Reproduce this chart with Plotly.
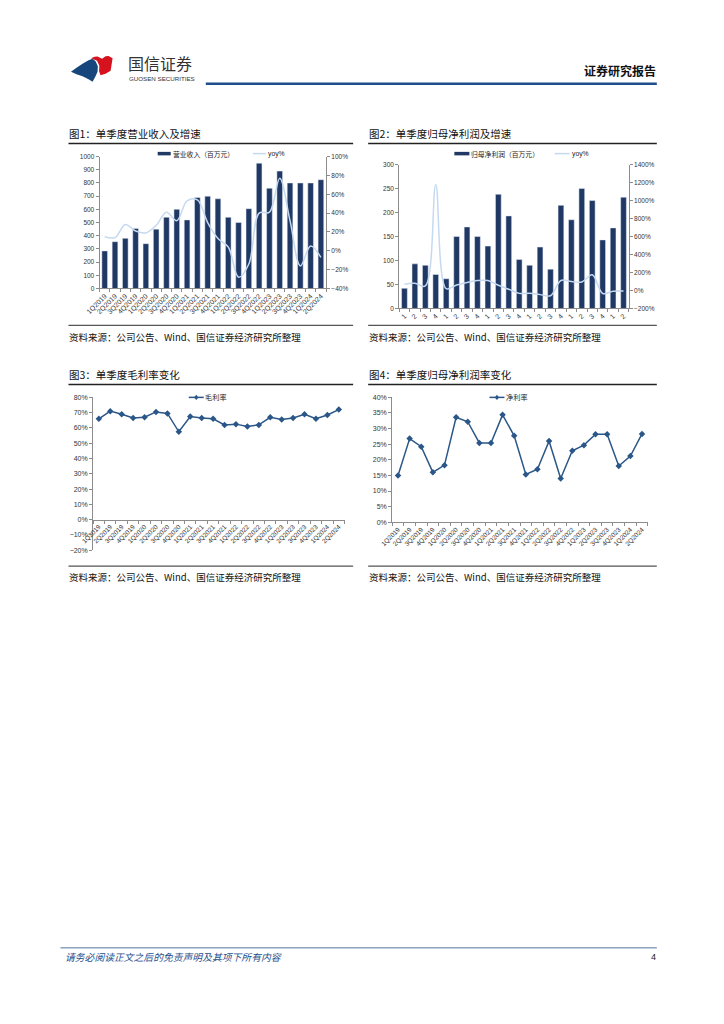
import plotly.graph_objects as go

# ---------------- data ----------------
quarters = ["1Q2019", "2Q2019", "3Q2019", "4Q2019", "1Q2020", "2Q2020", "3Q2020", "4Q2020",
            "1Q2021", "2Q2021", "3Q2021", "4Q2021", "1Q2022", "2Q2022", "3Q2022", "4Q2022",
            "1Q2023", "2Q2023", "3Q2023", "4Q2023", "1Q2024", "2Q2024"]
revenue = [285, 355, 380, 455, 340, 450, 540, 600, 520, 690, 700, 680,
           540, 500, 605, 950, 760, 890, 800, 800, 800, 825]
revenue_yoy = [15, 14, 28, 21, 19, 27, 41, 32, 53, 54, 30, 13,
               4, -28, -14, 40, 41, 77, 32, -16, 5, -7]
net_profit = [42, 93, 90, 71, 62, 150, 170, 150, 130, 238, 193, 102,
              90, 128, 82, 215, 185, 250, 225, 143, 168, 232]
net_profit_yoy = [70, 80, 50, 1180, 20, 61, 89, 111, 110, 59, 14, -32,
                  -31, -46, -58, 111, 100, 95, 174, -33, -9, -7]
gross_margin = [66, 71, 69, 66.5, 67, 70.5, 69.5, 57.5, 67.5, 66.5, 66, 62,
                62.5, 61, 62, 67, 65.5, 66.5, 69, 66, 68.5, 72]
net_margin = [15, 26.8, 24.2, 16, 18.3, 33.6, 32.2, 25.4, 25.4, 34.4, 27.7, 15.3,
              17, 26, 14, 22.9, 24.7, 28.2, 28.2, 18, 21.2, 28.3]
short_labels = [q[0] for q in quarters]

# ---------------- helpers ----------------
PAGE_W, PAGE_H = 724, 1024
OFF = 8  # default body margin of the html page
W, H = PAGE_W - 2 * OFF, PAGE_H - 2 * OFF
def fx(x):
    x = (x - 13.8) / 0.978
    return (x - OFF) / W
def fy(y):
    y = (y - 2.5 - 133) / 0.994 + 133
    return 1 - (y - OFF) / H

NAVY = "#203864"
LIGHT = "#c5d9f0"
LINEC = "#2b5788"
AXC = "#8c8c8c"
TXT = "#333333"
NUMF = "Liberation Sans, Arial, Noto Sans CJK SC"
CJK = "Noto Sans CJK SC, sans-serif"

fig = go.Figure()

# Chart 1
fig.add_trace(go.Bar(x=quarters, y=revenue, marker_color=NAVY, width=0.55,
                     xaxis="x", yaxis="y", name="营业收入（百万元）"))
fig.add_trace(go.Scatter(x=quarters, y=revenue_yoy, mode="lines", line=dict(color=LIGHT, width=1.5, shape="spline"),
                         name="yoy%", xaxis="x", yaxis="y2"))
# Chart 2
fig.add_trace(go.Bar(x=quarters, y=net_profit, marker_color=NAVY, width=0.55,
                     xaxis="x2", yaxis="y3", name="归母净利润（百万元）"))
fig.add_trace(go.Scatter(x=quarters, y=net_profit_yoy, mode="lines", line=dict(color=LIGHT, width=1.5, shape="spline"),
                         name="yoy%", xaxis="x2", yaxis="y4"))
# Chart 3
fig.add_trace(go.Scatter(x=quarters, y=gross_margin, mode="lines+markers",
                         line=dict(color=LINEC, width=1.5), marker=dict(symbol="diamond", size=5, color=LINEC),
                         name="毛利率", xaxis="x3", yaxis="y5"))
# Chart 4
fig.add_trace(go.Scatter(x=quarters, y=net_margin, mode="lines+markers",
                         line=dict(color=LINEC, width=1.5), marker=dict(symbol="diamond", size=5, color=LINEC),
                         name="净利率", xaxis="x4", yaxis="y6"))

tickfont = dict(family=NUMF, size=6.5, color=TXT)
tickfont7 = dict(family=NUMF, size=7, color=TXT)

def cat_axis(domain, anchor, font, **kw):
    d = dict(domain=domain, anchor=anchor, type="category", range=[-0.5, 21.5],
             showline=True, linecolor=AXC, linewidth=1, ticks="outside", ticklen=3,
             tickcolor=AXC, tickson="boundaries", tickangle=-45, tickfont=font,
             showgrid=False, zeroline=False, fixedrange=True)
    d.update(kw)
    return d

def val_axis(domain, anchor, rng, dtick, font, **kw):
    d = dict(domain=domain, anchor=anchor, range=rng, dtick=dtick, showline=True,
             linecolor=AXC, linewidth=1, ticks="outside", ticklen=3, tickcolor=AXC,
             tickfont=font, showgrid=False, zeroline=False, fixedrange=True)
    d.update(kw)
    return d

y5_dom = [fy(550), fy(397)]
x3_pos = y5_dom[0] + (0 - (-20)) / 100 * (y5_dom[1] - y5_dom[0])

fig.update_layout(
    width=W, height=H, margin=dict(l=0, r=0, t=0, b=0),
    paper_bgcolor="white", plot_bgcolor="white", showlegend=False,
    font=dict(family=CJK, color=TXT),
    xaxis=cat_axis([fx(99), fx(325)], "y", tickfont7),
    yaxis=val_axis([fy(288), fy(156)], "x", [0, 1000], 100, tickfont),
    yaxis2=val_axis([fy(288), fy(156)], "x", [-40, 100], 20, tickfont, overlaying="y", side="right", ticksuffix="%"),
    xaxis2=cat_axis([fx(398), fx(627)], "y3", tickfont7, tickmode="array", tickvals=quarters, ticktext=short_labels),
    yaxis3=val_axis([fy(308), fy(164)], "x2", [0, 300], 50, tickfont),
    yaxis4=val_axis([fy(308), fy(164)], "x2", [-200, 1400], 200, tickfont, overlaying="y3", side="right", ticksuffix="%"),
    xaxis3=cat_axis([fx(92.6), fx(343.4)], "free", tickfont, position=x3_pos),
    yaxis5=val_axis(y5_dom, "x3", [-20, 80], 10, tickfont7, ticksuffix="%"),
    xaxis4=cat_axis([fx(391), fx(646)], "y6", tickfont),
    yaxis6=val_axis([fy(522), fy(397)], "x4", [0, 40], 5, tickfont7, ticksuffix="%"),
)

shapes = []
annotations = []

def hline(x0, x1, y, color, width):
    shapes.append(dict(type="line", xref="paper", yref="paper", x0=fx(x0), x1=fx(x1),
                       y0=fy(y), y1=fy(y), line=dict(color=color, width=width)))

def text(x, y, s, size, color="#000000", anchor="left", family=CJK, **kw):
    annotations.append(dict(xref="paper", yref="paper", x=fx(x), y=fy(y), text=s, showarrow=False,
                            xanchor=anchor, yanchor="middle", xshift=0, borderpad=0,
                            font=dict(size=size, color=color, family=family, **kw)))

def poly(pts, color):
    p = "M " + " L ".join(f"{fx(a):.5f},{fy(b):.5f}" for a, b in pts) + " Z"
    shapes.append(dict(type="path", xref="paper", yref="paper", path=p, fillcolor=color, line=dict(width=0)))

# Legends (keys drawn as small shapes next to real text)
def legend_key(x0, x1, y, color, width, diamond=False):
    hline(x0, x1, y, color, width)
    if diamond:
        cx = (x0 + x1) / 2
        poly([(cx, y - 2.6), (cx + 2.2, y), (cx, y + 2.6), (cx - 2.2, y)], color)

legend_font = 6.8
legend_key(157, 170, 153, NAVY, 3.5)
text(171, 153, "营业收入（百万元）", legend_font, "#222222")
legend_key(252, 265, 153, LIGHT, 1.5)
text(266, 153, "yoy%", legend_font, "#222222", family=NUMF)

legend_key(453, 468, 153, NAVY, 3.5)
text(469, 153, "归母净利润（百万元）", legend_font, "#222222")
legend_key(553, 568, 153, LIGHT, 1.5)
text(569, 153, "yoy%", legend_font, "#222222", family=NUMF)

legend_key(188, 203, 397, LINEC, 1.5, diamond=True)
text(203.5, 397, "毛利率", legend_font + 0.4, "#222222")
legend_key(488, 503, 397, LINEC, 1.5, diamond=True)
text(503.5, 397, "净利率", legend_font + 0.4, "#222222")

# Header logo
poly([(70.5, 71), (76, 67), (82, 63), (88, 59.5), (92, 58), (95, 60.5), (97.3, 65.5), (97, 71),
      (94.5, 76.5), (92, 81), (88, 78.5), (82, 75.5), (76, 73.5)], "#17467d")
poly([(90.5, 57.5), (94, 56), (97, 55.8), (101.5, 58), (105, 55.5), (108, 55.2), (112, 57.5), (111, 64),
      (110, 70), (105, 73), (100, 74.5), (98.5, 70.5), (98.8, 65), (96.5, 60)], "#d6121e")
text(126, 62, "国信证券", 16, "#333333")
text(127, 77.5, "GUOSEN SECURITIES", 6.2, "#333333", family="Liberation Sans, Arial")
hline(205, 655, 83, "#1f4e8c", 2.5)
text(655, 70, "<b>证券研究报告</b>", 12, "#111111", anchor="right")

# Chart titles, rules, sources
for (x0, x1, ty, ly, sy, sty, title) in [
    (68, 352, 133, 143, 325, 337, "图1：单季度营业收入及增速"),
    (367, 655, 133, 143, 325, 337, "图2：单季度归母净利润及增速"),
    (68, 352, 374, 384, 566, 577, "图3：单季度毛利率变化"),
    (367, 655, 374, 384, 566, 577, "图4：单季度归母净利润率变化"),
]:
    text(x0, ty, title, 10.5, "#111111")
    hline(x0, x1, ly, "#222222", 1.5)
    hline(x0, x1, sy, "#555555", 1.2)
    text(x0, sty, "资料来源：公司公告、Wind、国信证券经济研究所整理", 9.5, "#111111")

# Footer
hline(60, 655, 948, "#4f73a0", 1)
text(64, 957, "请务必阅读正文之后的免责声明及其项下所有内容", 9.8, "#1f4e8c", style="italic")
text(655, 957, "4", 9, "#222222", anchor="right", family="Liberation Sans, Arial")

fig.update_layout(shapes=shapes, annotations=annotations)
fig.write_html("out.html")
